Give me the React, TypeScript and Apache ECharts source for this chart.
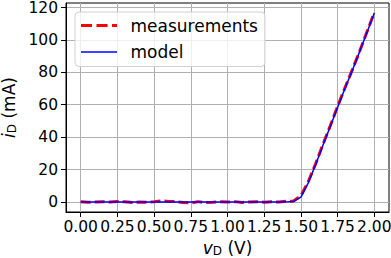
import React, { useEffect, useRef } from "react";
import * as echarts from "echarts";

const voltages = [
  0.0, 0.05, 0.1, 0.15, 0.2, 0.25, 0.3, 0.35, 0.4, 0.45,
  0.5, 0.55, 0.6, 0.65, 0.7, 0.75, 0.8, 0.85, 0.9, 0.95,
  1.0, 1.05, 1.1, 1.15, 1.2, 1.25, 1.3, 1.35, 1.4, 1.45,
  1.5, 1.55, 1.6, 1.65, 1.7, 1.75, 1.8, 1.85, 1.9, 1.95, 2.0,
];

const measurements = [
  0.1, -0.2, 0.0, 0.2, -0.1, 0.3, 0.1, -0.3, 0.0, -0.2,
  0.1, 0.7, 0.3, 0.2, -0.3, -0.6, 0.2, -0.4, -0.2, 0.1,
  -0.1, 0.2, -0.3, 0.0, 0.2, -0.2, 0.1, 0.0, 0.4, 0.6,
  3.8, 12.5, 23.5, 35.5, 47.0, 59.0, 70.5, 81.5, 93.0, 105.0, 116.9,
];

const model = [
  0, 0, 0, 0, 0, 0, 0, 0, 0, 0,
  0, 0, 0, 0, 0, 0, 0, 0, 0, 0,
  0, 0, 0, 0, 0, 0, 0, 0, 0.05, 0.3,
  3.0, 11.8, 23.0, 35.0, 46.6, 58.4, 70.0, 81.2, 92.8, 104.6, 116.6,
];

const xTicks = [0, 0.25, 0.5, 0.75, 1.0, 1.25, 1.5, 1.75, 2.0];
const yTicks = [0, 20, 40, 60, 80, 100, 120];

const FONT = "DejaVu Sans";

const DASH_ICON = "path://M0,0h11v3h-11z M15.5,0h11v3h-11z M31,0h5v3h-5z";
const SOLID_ICON = "path://M0,0h36v1.6h-36z";

export default function App() {
  const ref = useRef<HTMLDivElement>(null);
  useEffect(() => {
    if (!ref.current) return;
    const chart = echarts.init(ref.current, undefined, { renderer: "svg" });
    const gridLine = { show: true, lineStyle: { color: "#b0b0b0", width: 1 } };
    chart.setOption({
      animation: false,
      backgroundColor: "#fff",
      grid: {
        left: 66,
        right: 2,
        top: 3,
        bottom: 46,
        outerBoundsMode: "none",
        containLabel: false,
        show: true,
        borderColor: "#000",
        borderWidth: 1,
        backgroundColor: "#fff",
      },
      legend: {
        orient: "vertical",
        left: 75,
        top: 12,
        padding: [5, 7, 6, 6],
        itemWidth: 36,
        itemHeight: 14,
        itemGap: 9.5,
        symbolKeepAspect: true,
        backgroundColor: "rgba(255,255,255,0.8)",
        borderColor: "#d0d0d0",
        borderWidth: 1,
        borderRadius: 4,
        textStyle: {
          fontFamily: FONT,
          fontSize: 17,
          color: "#000",
          lineHeight: 17,
          padding: [0, 0, 0, 8.5],
        },
        data: [
          { name: "measurements", icon: DASH_ICON, itemStyle: { color: "#ff0000" } },
          { name: "model", icon: SOLID_ICON, itemStyle: { color: "#0000ff" } },
        ],
      },
      xAxis: {
        type: "value",
        min: -0.1,
        max: 2.1,
        name: "{v|v}{sub|D} (V)",
        nameLocation: "middle",
        nameGap: 24,
        nameTextStyle: {
          fontFamily: FONT,
          fontSize: 17,
          color: "#000",
          rich: {
            v: { fontFamily: FONT, fontSize: 17, fontStyle: "italic", color: "#000" },
            sub: { fontFamily: FONT, fontSize: 12, color: "#000", verticalAlign: "bottom", padding: [6, 0, 0, 0] },
          },
        },
        axisLine: { show: true, onZero: false, lineStyle: { color: "#000", width: 1 } },
        axisTick: { show: true, inside: false, length: 5, customValues: xTicks, lineStyle: { color: "#000", width: 1 } },
        axisLabel: {
          customValues: xTicks,
          margin: 7,
          fontFamily: FONT,
          fontSize: 15.5,
          color: "#000",
          hideOverlap: false,
          formatter: (v: number) => v.toFixed(2),
        },
        splitLine: gridLine,
      },
      yAxis: {
        type: "value",
        min: -6.2,
        max: 122.8,
        name: "{i|i}{sub|D} (mA)",
        nameLocation: "middle",
        nameRotate: 90,
        nameGap: 32,
        nameTextStyle: {
          fontFamily: FONT,
          fontSize: 17,
          color: "#000",
          rich: {
            i: { fontFamily: FONT, fontSize: 17, fontStyle: "italic", color: "#000" },
            sub: { fontFamily: FONT, fontSize: 12, color: "#000", verticalAlign: "bottom", padding: [6, 0, 0, 0] },
          },
        },
        axisLine: { show: true, onZero: false, lineStyle: { color: "#000", width: 1 } },
        axisTick: { show: true, inside: false, length: 5, customValues: yTicks, lineStyle: { color: "#000", width: 1 } },
        axisLabel: {
          customValues: yTicks,
          margin: 8,
          fontFamily: FONT,
          fontSize: 15.5,
          color: "#000",
        },
        splitLine: gridLine,
      },
      series: [
        {
          name: "measurements",
          type: "line",
          data: voltages.map((v, i) => [v, measurements[i]]),
          showSymbol: false,
          symbol: "none",
          color: "#ff0000",
          lineStyle: { color: "#ff0000", width: 3, type: [10, 4] },
          z: 2,
        },
        {
          name: "model",
          type: "line",
          data: voltages.map((v, i) => [v, model[i]]),
          showSymbol: false,
          symbol: "none",
          color: "#0000ff",
          lineStyle: { color: "#0000ff", width: 1.5 },
          z: 3,
        },
      ],
    });
    return () => chart.dispose();
  }, []);
  return (
    <div
      ref={ref}
      style={{ position: "fixed", left: 0, top: 0, width: 391, height: 258 }}
    />
  );
}
